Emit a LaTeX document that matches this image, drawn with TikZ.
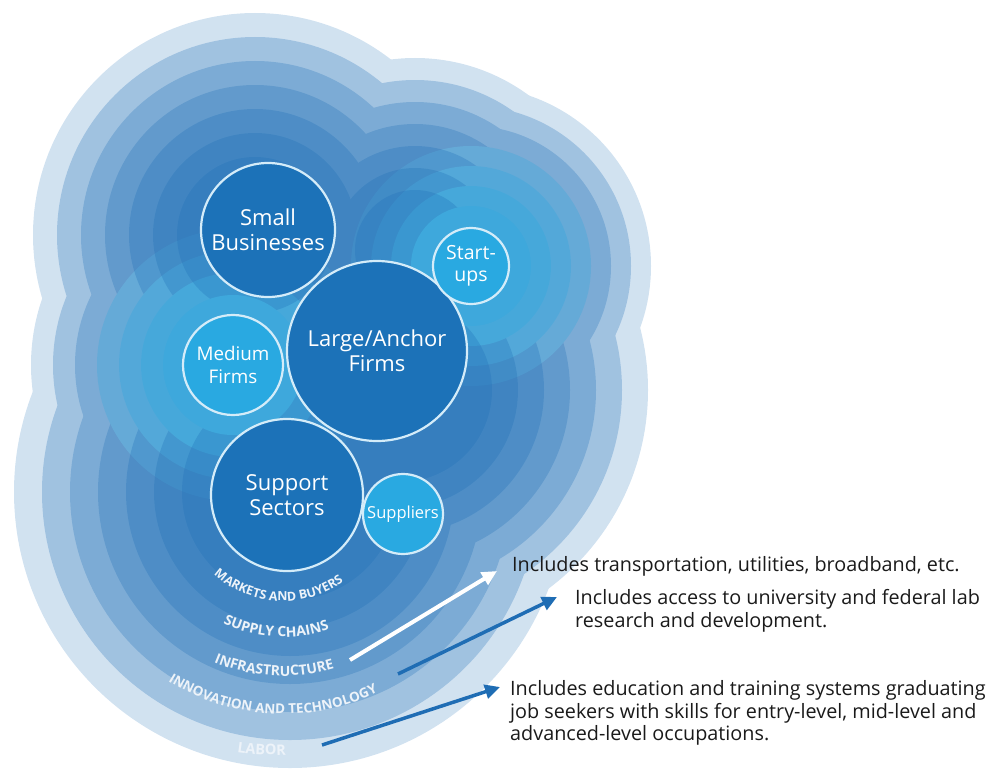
\documentclass[tikz,border=0pt]{standalone}
\usepackage{fontspec}
\setmainfont{Open Sans}
\usetikzlibrary{arrows.meta,decorations.text}

\definecolor{deepblue}{HTML}{1C72B8}
\definecolor{skyblue}{HTML}{29A9E1}
\definecolor{blobblue}{HTML}{1A6CB5}
\definecolor{blobcyan}{HTML}{27A8E0}
\definecolor{ringline}{HTML}{D4ECF9}
\definecolor{notetext}{HTML}{1A1A1A}
\definecolor{arrowblue}{HTML}{1F6DB4}

\newcommand\ringfont{\bfseries\fontsize{14}{15}\selectfont}

\begin{document}
\begin{tikzpicture}[x=1pt, y=1pt,
		firm/.style={circle, draw=ringline, line width=2.2pt, fill=deepblue, text=white, align=center, inner sep=0pt, font=\fontsize{22}{25}\selectfont},
		smallfirm/.style={firm, fill=skyblue, font=\fontsize{18.8}{22.5}\selectfont},
		note/.style={anchor=west, align=left, inner sep=0pt, text=notetext, font=\fontsize{19.8}{22.5}\selectfont},
		pointer/.style={line width=3.5pt, -{Triangle[length=15pt, width=14pt]}},
		ring/.style={decorate, decoration={text along path, text color=white!92!blobblue, text align=center}},
	]
	\useasboundingbox (0,0) rectangle (990,-768);

	% layered background, one band per step
	\foreach \k in {0,...,6} {
		\ifnum\k<3 \colorlet{lobe}{blobblue}\else\colorlet{lobe}{blobcyan}\fi
		\pgfmathsetmacro{\op}{\k==0 ? 0.2 : 0.27}
		\begin{scope}[transparency group, opacity=\op]
			\fill[blobblue] (255,-235) circle[radius=222-24*\k];
			\fill[blobblue] (290,-492) circle[radius=276-28*\k];
			\fill[blobblue] (400,-390) circle[radius=248-26*\k];
			\fill[blobblue] (415,-250) circle[radius=192-22*\k];
			\fill[lobe] (471,-266) circle[radius=180-20*\k];
			\fill[lobe] (233,-365) circle[radius=202-22*\k];
		\end{scope}
	}

	% firms
	\node[firm, minimum size=134pt] (smallbiz) at (268,-230) {Small\\Businesses};
	\node[firm, minimum size=180pt] (anchor) at (377,-351) {Large/Anchor\\Firms};
	\node[firm, minimum size=152pt] (support) at (287,-495) {Support\\Sectors};
	\node[smallfirm, minimum size=100pt] (medium) at (233,-365) {Medium\\Firms};
	\node[smallfirm, minimum size=76pt, font=\fontsize{19.5}{22}\selectfont] (startups) at (471,-266) {Start-\\ups};
	\node[smallfirm, minimum size=80pt, font=\fontsize{16.5}{17}\selectfont] (suppliers) at (403,-514) {Suppliers};

	% ring labels
	\path[ring, decoration={text={|\bfseries\fontsize{12.5}{13}\selectfont|MARKETS AND BUYERS}}] (283,-497) ++(187:104) arc[start angle=187, end angle=347, radius=104];
	\path[ring, decoration={text={|\ringfont|SUPPLY CHAINS}}] (283,-497) ++(187:140) arc[start angle=187, end angle=347, radius=140];
	\path[ring, decoration={text={|\ringfont|INFRASTRUCTURE}}] (283,-497) ++(187:179) arc[start angle=187, end angle=347, radius=179];
	\path[ring, decoration={text={|\bfseries\fontsize{13.5}{14}\selectfont|INNOVATION AND TECHNOLOGY}}] (283,-497) ++(187:217) arc[start angle=187, end angle=347, radius=217];
	\path[ring, decoration={text={|\bfseries\fontsize{14.5}{15}\selectfont|LABOR}}] (275,-497) ++(187:258) arc[start angle=187, end angle=347, radius=258];

	% notes
	\node[note] (infraNote) at (512,-566) {Includes transportation, utilities, broadband, etc.};
	\node[note] (innovNote) at (575,-611) {Includes access to university and federal lab\\research and development.};
	\node[note] (laborNote) at (510,-713) {Includes education and training systems graduating\\job seekers with skills for entry-level, mid-level and\\advanced-level occupations.};

	\coordinate (infraTail) at (350,-660);
	\coordinate (innovTail) at (398,-674);
	\coordinate (laborTail) at (322,-745);

	\draw[pointer, white, line width=4pt] (infraTail) -- ([shift={(-15,-5)}]infraNote.west);
	\draw[pointer, arrowblue] (innovTail) -- ([shift={(-18,14)}]innovNote.west);
	\draw[pointer, arrowblue] (laborTail) -- ([shift={(-10,26)}]laborNote.west);
\end{tikzpicture}
\end{document}
